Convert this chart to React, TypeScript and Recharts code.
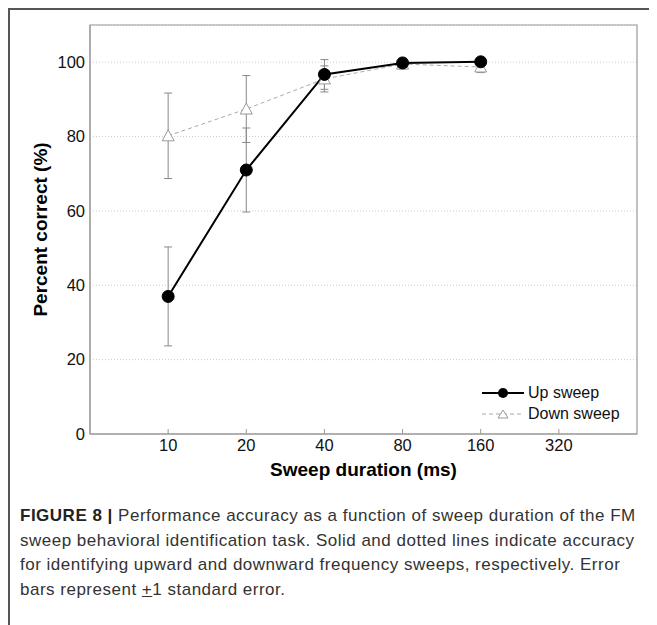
import React from 'react';
import {
    LineChart,
    Line,
    XAxis,
    YAxis,
    CartesianGrid,
    ErrorBar,
    Legend,
    ReferenceArea
} from 'recharts';

// sweep durations (ms) and accuracy (%)
const durations = [10, 20, 40, 80, 160];
const upSweep = [37.0, 71.0, 96.7, 99.8, 100.1];
const upSweepErr = [13.3, 11.3, 4.0, 1.3, 1.0];
const downSweep = [80.2, 87.4, 95.5, 99.5, 98.7];
const downSweepErr = [11.5, 9.0, 3.5, 1.3, 1.5];

const xTicks = [10, 20, 40, 80, 160, 320];
const yTicks = [0, 20, 40, 60, 80, 100];

const data = durations.map((d, i) => ({
    duration: d,
    up: upSweep[i],
    upErr: upSweepErr[i],
    down: downSweep[i],
    downErr: downSweepErr[i]
}));

const FONT = '"Liberation Sans", Arial, sans-serif';

const Triangle = (props: any) => {
    const { cx, cy } = props;
    if (cx == null || cy == null) return null;
    return (
        <polygon
            points={`${cx - 6},${cy + 5} ${cx + 6},${cy + 5} ${cx},${cy - 6}`}
            fill="#fff"
            stroke="#999"
            strokeWidth={1}
        />
    );
};

const LegendBox = () => (
    <div style={{ fontFamily: FONT, fontSize: 16, color: '#111', lineHeight: '21px' }}>
        <div style={{ display: 'flex', alignItems: 'center' }}>
            <svg width={42} height={14} style={{ marginRight: 4 }}>
                <line x1={0} y1={7} x2={42} y2={7} stroke="#000" strokeWidth={2} />
                <circle cx={21} cy={7} r={5} fill="#000" />
            </svg>
            <span>Up sweep</span>
        </div>
        <div style={{ display: 'flex', alignItems: 'center' }}>
            <svg width={42} height={14} style={{ marginRight: 4 }}>
                <line x1={0} y1={7} x2={42} y2={7} stroke="#aaa" strokeWidth={1} strokeDasharray="4 3" />
                <polygon points="16,11 26,11 21,3" fill="#fff" stroke="#999" />
            </svg>
            <span>Down sweep</span>
        </div>
    </div>
);

const App = () => {
    return (
        <div
            style={{
                width: 647,
                height: 615,
                borderTop: '2px solid #555',
                borderLeft: '2px solid #555',
                background: '#fff'
            }}
        >
            <LineChart
                width={647}
                height={470}
                data={data}
                margin={{ top: 15, right: 20, left: 40, bottom: 6 }}
            >
                <CartesianGrid vertical={false} stroke="#ccc" strokeDasharray="1 2" />
                <ReferenceArea
                    x1={5}
                    x2={640}
                    y1={0}
                    y2={110}
                    fill="none"
                    stroke="#999"
                    strokeWidth={1.2}
                    ifOverflow="visible"
                />

                <XAxis
                    dataKey="duration"
                    type="number"
                    scale="log"
                    domain={[5, 640]}
                    ticks={xTicks}
                    allowDataOverflow
                    height={40}
                    stroke="#999"
                    tickSize={-5}
                    tickMargin={10}
                    tick={{ fill: '#111', fontSize: 16.5, fontFamily: FONT }}
                    label={{
                        value: 'Sweep duration (ms)',
                        position: 'insideBottom',
                        offset: -2,
                        fill: '#000',
                        fontSize: 19,
                        fontWeight: 'bold',
                        fontFamily: FONT
                    }}
                />
                <XAxis
                    xAxisId="top"
                    orientation="top"
                    dataKey="duration"
                    type="number"
                    scale="log"
                    domain={[5, 640]}
                    ticks={xTicks}
                    allowDataOverflow
                    height={0}
                    axisLine={false}
                    stroke="#999"
                    tickSize={-5}
                    tick={false}
                />

                <YAxis
                    type="number"
                    domain={[0, 110]}
                    ticks={yTicks}
                    width={40}
                    stroke="#999"
                    tickLine={false}
                    tickSize={0}
                    tickMargin={5}
                    tick={{ fill: '#111', fontSize: 16.5, fontFamily: FONT }}
                    label={{
                        content: (p: any) => {
                            const vb = p.viewBox || {};
                            const x = (vb.x ?? 40) - 10;
                            const y = (vb.y ?? 15) + (vb.height ?? 409) / 2;
                            return (
                                <text
                                    x={x}
                                    y={y}
                                    transform={`rotate(-90 ${x} ${y})`}
                                    textAnchor="middle"
                                    dominantBaseline="central"
                                    fill="#000"
                                    fontSize={19}
                                    fontWeight="bold"
                                    fontFamily={FONT}
                                >
                                    Percent correct (%)
                                </text>
                            );
                        }
                    }}
                />

                <Legend
                    layout="vertical"
                    align="center"
                    verticalAlign="middle"
                    content={<LegendBox />}
                    wrapperStyle={{ left: 472, top: 372, width: 'auto', bottom: 'auto', right: 'auto' }}
                />

                <Line
                    dataKey="down"
                    name="Down sweep"
                    stroke="#aaa"
                    strokeWidth={1}
                    strokeDasharray="4 3"
                    dot={<Triangle />}
                    activeDot={false}
                    isAnimationActive={false}
                >
                    <ErrorBar dataKey="downErr" direction="y" width={4} stroke="#888" strokeWidth={1} />
                </Line>
                <Line
                    dataKey="up"
                    name="Up sweep"
                    stroke="#000"
                    strokeWidth={2}
                    dot={{ r: 6, fill: '#000', stroke: '#000', strokeWidth: 1 }}
                    activeDot={false}
                    isAnimationActive={false}
                >
                    <ErrorBar dataKey="upErr" direction="y" width={4} stroke="#888" strokeWidth={1} />
                </Line>
            </LineChart>

            <div
                style={{
                    fontFamily: FONT,
                    fontSize: 17,
                    letterSpacing: 0.5,
                    lineHeight: '24.5px',
                    color: '#333',
                    paddingLeft: 10,
                    marginTop: 24,
                    whiteSpace: 'nowrap'
                }}
            >
                <div>
                    <b style={{ color: '#222' }}>FIGURE 8 |</b> Performance accuracy as a function of sweep duration of the FM
                </div>
                <div>sweep behavioral identification task. Solid and dotted lines indicate accuracy</div>
                <div>for identifying upward and downward frequency sweeps, respectively. Error</div>
                <div>
                    bars represent <span style={{ textDecoration: 'underline' }}>+</span>1 standard error.
                </div>
            </div>
        </div>
    );
};

export default App;
